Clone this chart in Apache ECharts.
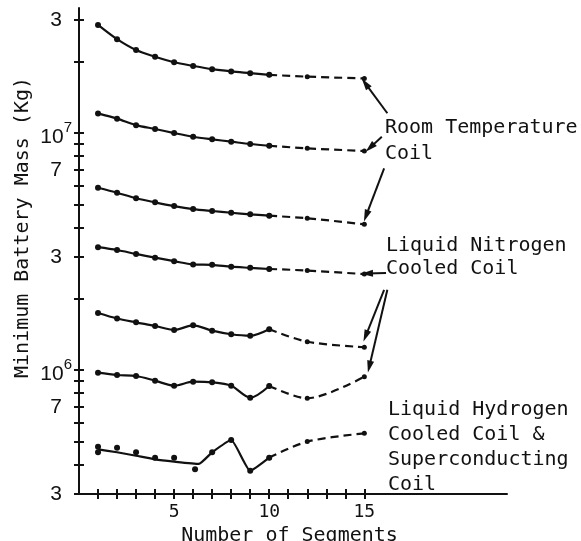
<!DOCTYPE html>
<html><head><meta charset="utf-8">
<script src="https://cdn.jsdelivr.net/npm/echarts@6/dist/echarts.min.js"></script>
<style>html,body{margin:0;padding:0;background:#fff}#c{width:581px;height:541px}</style>
</head><body><div id="c"></div>
<script>
// ---- data ----
const xSolid = [1, 2, 3, 4, 5, 6, 7, 8, 9, 10];
const xDashed = [10, 12, 15];
// Room temperature coils (three curves)
const room1 = [2.86e7, 2.49e7, 2.24e7, 2.10e7, 1.99e7, 1.92e7, 1.86e7, 1.82e7, 1.79e7, 1.76e7];
const room1Ext = [1.76e7, 1.73e7, 1.70e7];
const room2 = [1.21e7, 1.15e7, 1.08e7, 1.04e7, 1.00e7, 9.65e6, 9.41e6, 9.20e6, 8.99e6, 8.84e6];
const room2Ext = [8.84e6, 8.62e6, 8.40e6];
const room3 = [5.88e6, 5.60e6, 5.31e6, 5.10e6, 4.92e6, 4.78e6, 4.69e6, 4.61e6, 4.54e6, 4.48e6];
const room3Ext = [4.48e6, 4.37e6, 4.12e6];
// Liquid nitrogen cooled coils (three curves)
const ln1 = [3.30e6, 3.21e6, 3.09e6, 2.98e6, 2.88e6, 2.79e6, 2.78e6, 2.73e6, 2.70e6, 2.67e6];
const ln1Ext = [2.67e6, 2.63e6, 2.54e6];
const ln2 = [1.74e6, 1.65e6, 1.59e6, 1.535e6, 1.476e6, 1.545e6, 1.466e6, 1.416e6, 1.396e6, 1.486e6];
const ln2Ext = [1.486e6, 1.317e6, 1.248e6];
const ln3 = [9.75e5, 9.53e5, 9.44e5, 9.02e5, 8.59e5, 8.93e5, 8.88e5, 8.59e5, 7.65e5, 8.57e5];
const ln3Ext = [8.57e5, 7.60e5, 9.38e5];
// Liquid hydrogen / superconducting
const lhLineX = [1, 2, 3, 4, 5, 6.3, 7, 8, 9, 10];
const lhLine = [4.63e5, 4.50e5, 4.35e5, 4.20e5, 4.11e5, 4.02e5, 4.50e5, 5.07e5, 3.76e5, 4.27e5];
const lhExt = [4.27e5, 4.99e5, 5.41e5];
const lhDotX = [1, 1, 2, 3, 4, 5, 6.1, 7, 8, 9, 10];
const lhDot = [4.75e5, 4.50e5, 4.70e5, 4.50e5, 4.27e5, 4.27e5, 3.82e5, 4.50e5, 5.07e5, 3.76e5, 4.27e5];
// axis ticks / labels
const xTicks = [1, 2, 3, 4, 5, 6, 7, 8, 9, 10, 11, 12, 13, 14, 15];
const xLabels = [5, 10, 15];
const yTicks = [3e5, 4e5, 5e5, 6e5, 7e5, 8e5, 9e5, 1e6, 2e6, 3e6, 4e6, 5e6, 6e6, 7e6, 8e6, 9e6, 1e7, 2e7, 3e7];
const yLabelValues = [3e5, 7e5, 1e6, 3e6, 7e6, 1e7, 3e7];
const yLabelTexts = ['3', '7', '10^6', '3', '7', '10^7', '3'];
// annotation arrows (tail -> head), in data units
const arrowTailX = [16.21, 15.92, 16.04, 16.14, 16.04, 16.21];
const arrowTailY = [1.212e7, 9.65e6, 7.10e6, 2.57e6, 2.18e6, 2.18e6];
const arrowHeadX = [15.05, 15.30, 15.09, 15.14, 15.07, 15.26];
const arrowHeadY = [1.62e7, 8.68e6, 4.47e6, 2.556e6, 1.392e6, 1.033e6];

// ---- chart ----
const zip = (xs, ys) => xs.map((x, i) => [x, ys[i]]);
const MONO = 'DejaVu Sans Mono';
const INK = '#111';

function solid(ys) {
  return { type: 'line', data: zip(xSolid, ys), smooth: 0.3, symbol: 'circle', symbolSize: 6,
    itemStyle: { color: INK }, lineStyle: { color: INK, width: 2.2 }, z: 3 };
}
function dashed(ys, xs) {
  return { type: 'line', data: zip(xs || xDashed, ys), smooth: 0.3, symbol: 'circle', symbolSize: 5,
    itemStyle: { color: INK }, lineStyle: { color: INK, width: 2.2, type: [8, 5] }, z: 3 };
}

const series = [
  solid(room1), dashed(room1Ext),
  solid(room2), dashed(room2Ext),
  solid(room3), dashed(room3Ext),
  solid(ln1), dashed(ln1Ext),
  solid(ln2), dashed(ln2Ext),
  solid(ln3), dashed(ln3Ext),
  { type: 'line', data: zip(lhLineX, lhLine), smooth: 0.15, showSymbol: false, symbol: 'none',
    lineStyle: { color: INK, width: 2.2 }, z: 3 },
  dashed(lhExt),
  { type: 'scatter', data: zip(lhDotX, lhDot), symbol: 'circle', symbolSize: 6,
    itemStyle: { color: INK, opacity: 1 }, z: 4 },
  { type: 'line', data: [], markLine: {
      silent: true, animation: false, symbol: ['none', 'triangle'], symbolSize: [7, 12],
      label: { show: false }, lineStyle: { color: INK, width: 2, type: 'solid' },
      data: arrowTailX.map((x, i) => [{ coord: [x, arrowTailY[i]] }, { coord: [arrowHeadX[i], arrowHeadY[i]] }])
  } }
];

function yLabel(v) {
  let idx = -1;
  yLabelValues.forEach((val, i) => { if (Math.abs(Math.log10(v) - Math.log10(val)) < 1e-6) idx = i; });
  if (idx < 0) return '';
  const t = yLabelTexts[idx];
  if (t.indexOf('^') >= 0) {
    const p = t.split('^');
    return '{b|' + p[0] + '}{s|' + p[1] + '}';
  }
  return '{n|' + t + '}';
}

const yCommon = {
  type: 'log', logBase: 10, min: 3e5, max: 3.37e7, position: 'left',
  splitLine: { show: false }, minorTick: { show: false }
};

const option = {
  animation: false,
  backgroundColor: '#fff',
  grid: { left: 79, right: 74, top: 8, bottom: 47, containLabel: false, outerBoundsMode: 'none' },
  xAxis: [
    { type: 'value', min: 0, max: 22.5, position: 'bottom',
      axisLine: { onZero: false, lineStyle: { color: INK, width: 2 } },
      axisTick: { customValues: xTicks, length: 5, lineStyle: { color: INK, width: 2 } },
      axisLabel: { customValues: xLabels, margin: 9, color: INK, fontFamily: MONO, fontSize: 18 },
      splitLine: { show: false },
      name: 'Number of Segments', nameLocation: 'middle', nameGap: 25,
      nameTextStyle: { fontFamily: MONO, fontSize: 20, color: INK, verticalAlign: 'top', padding: [0, 7, 0, 0] } },
    { type: 'value', min: 0, max: 22.5, position: 'bottom',
      axisLine: { show: false, onZero: false },
      axisTick: { inside: true, customValues: xTicks, length: 5, lineStyle: { color: INK, width: 2 } },
      axisLabel: { show: false }, splitLine: { show: false } }
  ],
  yAxis: [
    Object.assign({}, yCommon, {
      axisLine: { show: true, lineStyle: { color: INK, width: 2 } },
      axisTick: { show: true, customValues: yTicks, length: 5, lineStyle: { color: INK, width: 2 } },
      axisLabel: { customValues: yLabelValues, formatter: yLabel, margin: 7,
        rich: {
          n: { fontFamily: 'Liberation Sans', fontSize: 21, color: INK, padding: [0, 10, 0, 0] },
          b: { fontFamily: 'Liberation Sans', fontSize: 21, color: INK, padding: [8, 0, 0, 0] },
          s: { fontFamily: 'Liberation Sans', fontSize: 15, color: INK, padding: [0, 0, 10, 0] }
        } }
    }),
    Object.assign({}, yCommon, {
      axisLine: { show: false },
      axisTick: { show: true, inside: true, customValues: yTicks, length: 5, lineStyle: { color: INK, width: 2 } },
      axisLabel: { show: false }
    })
  ],
  graphic: [
    { type: 'text', x: 13, y: 378, rotation: Math.PI / 2,
      style: { text: 'Minimum Battery Mass (Kg)', font: '20px "DejaVu Sans Mono"', fill: INK, textVerticalAlign: 'top' } },
    { type: 'text', x: 385, y: 118, style: { text: 'Room Temperature', font: '20px "DejaVu Sans Mono"', fill: INK, textVerticalAlign: 'top' } },
    { type: 'text', x: 385, y: 144, style: { text: 'Coil', font: '20px "DejaVu Sans Mono"', fill: INK, textVerticalAlign: 'top' } },
    { type: 'text', x: 386, y: 236, style: { text: 'Liquid Nitrogen', font: '20px "DejaVu Sans Mono"', fill: INK, textVerticalAlign: 'top' } },
    { type: 'text', x: 386, y: 259, style: { text: 'Cooled Coil', font: '20px "DejaVu Sans Mono"', fill: INK, textVerticalAlign: 'top' } },
    { type: 'text', x: 388, y: 400, style: { text: 'Liquid Hydrogen', font: '20px "DejaVu Sans Mono"', fill: INK, textVerticalAlign: 'top' } },
    { type: 'text', x: 388, y: 425, style: { text: 'Cooled Coil &', font: '20px "DejaVu Sans Mono"', fill: INK, textVerticalAlign: 'top' } },
    { type: 'text', x: 388, y: 450, style: { text: 'Superconducting', font: '20px "DejaVu Sans Mono"', fill: INK, textVerticalAlign: 'top' } },
    { type: 'text', x: 388, y: 475, style: { text: 'Coil', font: '20px "DejaVu Sans Mono"', fill: INK, textVerticalAlign: 'top' } }
  ],
  series: series
};
const chart = echarts.init(document.getElementById('c'), null, { renderer: 'canvas' });
chart.setOption(option);
</script></body></html>
